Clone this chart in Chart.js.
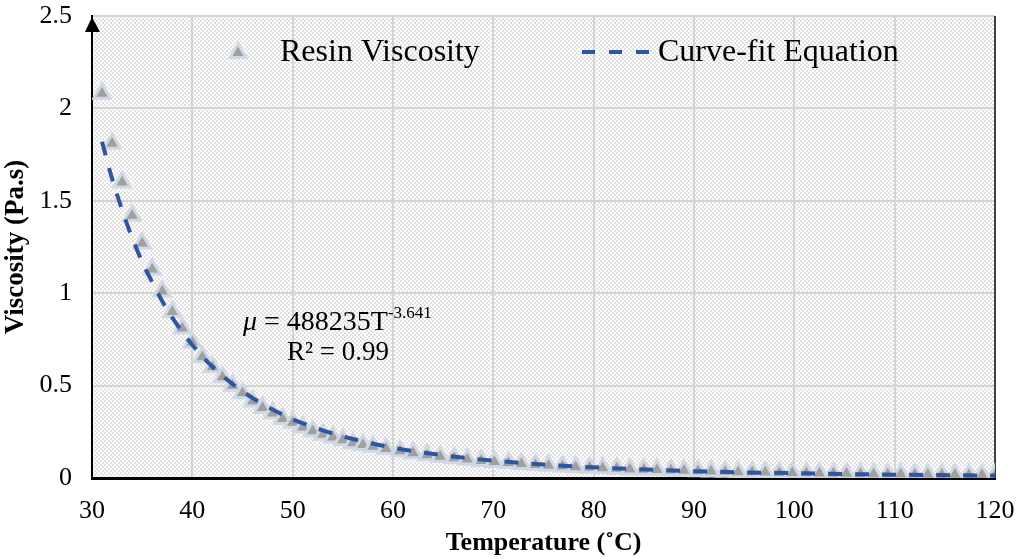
<!DOCTYPE html>
<html>
<head>
<meta charset="utf-8">
<script src="https://cdn.jsdelivr.net/npm/chart.js@4.4.1/dist/chart.umd.min.js"></script>
<style>
  html, body { margin: 0; padding: 0; background: #fff; }
</style>
</head>
<body>
<canvas id="chart" width="1016" height="559"></canvas>
<script>
// measured points (temperature in °C, viscosity in Pa.s)
const temps = [31, 32, 33, 34, 35, 36, 37, 38, 39, 40, 41, 42, 43, 44, 45, 46, 47, 48, 49, 50,
  51, 52, 53, 54, 55, 56, 57, 58, 59.3, 60.7, 62.0, 63.4, 64.7, 66.1, 67.4, 68.8, 70.1, 71.5,
  72.8, 74.2, 75.5, 76.9, 78.2, 79.6, 80.9, 82.3, 83.6, 85.0, 86.3, 87.7, 89.0, 90.4, 91.7,
  93.1, 94.4, 95.8, 97.1, 98.5, 99.8, 101.2, 102.5, 103.9, 105.2, 106.6, 107.9, 109.3, 110.6,
  112.0, 113.3, 114.7, 116.0, 117.4, 118.7, 120.0];
const viscosity = [2.08, 1.81, 1.60, 1.42, 1.27, 1.13, 1.01, 0.90, 0.81, 0.735, 0.655, 0.60,
  0.547, 0.50, 0.46, 0.415, 0.38, 0.35, 0.32, 0.30, 0.275, 0.255, 0.235, 0.22, 0.205, 0.19,
  0.18, 0.17, 0.158, 0.146, 0.135, 0.125, 0.117, 0.108, 0.101, 0.094, 0.088, 0.082, 0.077,
  0.072, 0.068, 0.064, 0.060, 0.057, 0.054, 0.051, 0.048, 0.046, 0.044, 0.042, 0.040, 0.038,
  0.036, 0.035, 0.033, 0.032, 0.031, 0.029, 0.028, 0.027, 0.026, 0.025, 0.024, 0.023, 0.022,
  0.022, 0.021, 0.020, 0.020, 0.019, 0.019, 0.018, 0.018, 0.017];

// dashed fit curve
const fitTemps = [31, 32, 33, 34, 35, 36, 37, 38, 39, 40, 42, 44, 46, 48, 50, 53, 56, 60, 65,
  70, 75, 80, 90, 100, 110, 120];
const fitViscosity = [1.82, 1.62, 1.45, 1.30, 1.17, 1.06, 0.957, 0.868, 0.79, 0.72, 0.602,
  0.509, 0.433, 0.371, 0.318, 0.258, 0.211, 0.164, 0.123, 0.094, 0.073, 0.058, 0.037, 0.026,
  0.018, 0.013];

const seriesNames = ["Resin Viscosity", "Curve-fit Equation"];
const xTitle = "Temperature (˚C)";
const yTitle = "Viscosity (Pa.s)";

const serif = "'Liberation Serif', 'Times New Roman', serif";
const lineBlue = "#2f559e";
const markFill = "#a0a0a0";
const markEdge = "#d0d8e4";

function hatchTile() {
  const c = document.createElement("canvas");
  c.width = 8; c.height = 8;
  const g = c.getContext("2d");
  g.fillStyle = "#fff";
  g.fillRect(0, 0, 8, 8);
  g.fillStyle = "#e2e2e2";
  for (let k = 0; k < 4; k++) {
    g.fillRect(2 * k, 2 * k, 2, 2);
    g.fillRect((2 * k + 4) % 8, 2 * k, 2, 2);
  }
  return c;
}

function noEdgePadding(scale) {
  scale.paddingTop = 0;
  scale.paddingBottom = 0;
  scale.paddingLeft = 0;
  scale.paddingRight = 0;
}

const decor = {
  id: "decor",
  beforeDraw(chart) {
    const { ctx, chartArea: a } = chart;
    ctx.save();
    ctx.fillStyle = ctx.createPattern(hatchTile(), "repeat");
    ctx.fillRect(a.left, a.top, a.right - a.left, a.bottom - a.top);
    ctx.restore();
  },
  beforeDatasetsDraw(chart) {
    const { ctx, chartArea: a } = chart;
    ctx.save();
    ctx.strokeStyle = "#404040";
    ctx.lineWidth = 2;
    ctx.beginPath();
    ctx.moveTo(a.right, a.top);
    ctx.lineTo(a.right, a.bottom);
    ctx.stroke();
    ctx.restore();
  },
  afterDraw(chart) {
    const { ctx, chartArea: a } = chart;
    ctx.save();
    // arrow head on the y axis
    ctx.fillStyle = "#000";
    ctx.beginPath();
    ctx.moveTo(a.left, a.top + 1);
    ctx.lineTo(a.left - 7, a.top + 16);
    ctx.lineTo(a.left + 8, a.top + 16);
    ctx.closePath();
    ctx.fill();

    // legend
    const ly = 52;
    ctx.fillStyle = markFill;
    ctx.strokeStyle = markEdge;
    ctx.lineWidth = 3;
    ctx.beginPath();
    ctx.moveTo(238, ly - 8.5);
    ctx.lineTo(246, ly + 5.5);
    ctx.lineTo(230, ly + 5.5);
    ctx.closePath();
    ctx.fill();
    ctx.stroke();
    ctx.fillStyle = "#000";
    ctx.font = "32px " + serif;
    ctx.textBaseline = "middle";
    ctx.fillText(seriesNames[0], 280, ly + 1);
    ctx.strokeStyle = lineBlue;
    ctx.lineWidth = 4;
    ctx.setLineDash([13, 14]);
    ctx.beginPath();
    ctx.moveTo(582, ly);
    ctx.lineTo(654, ly);
    ctx.stroke();
    ctx.setLineDash([]);
    ctx.fillText(seriesNames[1], 658, ly + 1);

    // equation
    ctx.textBaseline = "alphabetic";
    ctx.font = "italic 28px " + serif;
    ctx.fillText("μ", 243, 330);
    let x = 243 + ctx.measureText("μ").width;
    ctx.font = "28px " + serif;
    const mid = " = 488235T";
    ctx.fillText(mid, x, 330);
    x += ctx.measureText(mid).width;
    ctx.font = "17px " + serif;
    ctx.fillText("-3.641", x, 318);
    ctx.font = "27px " + serif;
    ctx.fillText("R² = 0.99", 287, 360);
    ctx.restore();
  }
};

const ctx = document.getElementById("chart").getContext("2d");
new Chart(ctx, {
  data: {
    datasets: [
      {
        type: "scatter",
        label: seriesNames[0],
        data: temps.map((t, i) => ({ x: t, y: viscosity[i] })),
        pointStyle: "triangle",
        pointRadius: 9.5,
        pointHoverRadius: 9.5,
        pointBackgroundColor: markFill,
        pointBorderColor: markEdge,
        pointBorderWidth: 3,
        order: 2
      },
      {
        type: "line",
        label: seriesNames[1],
        data: fitTemps.map((t, i) => ({ x: t, y: fitViscosity[i] })),
        borderColor: lineBlue,
        borderWidth: 4,
        borderDash: [14, 13],
        pointRadius: 0,
        fill: false,
        cubicInterpolationMode: "monotone",
        order: 1
      }
    ]
  },
  options: {
    responsive: false,
    animation: false,
    layout: { padding: { top: 16, right: 21, left: 0, bottom: 0 } },
    plugins: { legend: { display: false }, tooltip: { enabled: false } },
    scales: {
      x: {
        type: "linear",
        min: 30,
        max: 120,
        ticks: { stepSize: 10, padding: 18, color: "#000", font: { family: serif, size: 26 } },
        grid: { color: "#d4d4d4", lineWidth: 2, drawTicks: false },
        border: { color: "#000", width: 3 },
        title: {
          display: true, text: xTitle, color: "#000",
          font: { family: serif, size: 26, weight: "bold" },
          padding: { top: 0, bottom: 0 }
        },
        afterFit(scale) { scale.height = 81; noEdgePadding(scale); }
      },
      y: {
        min: 0,
        max: 2.5,
        ticks: {
          stepSize: 0.5, padding: 20, color: "#000", font: { family: serif, size: 26 },
          callback: (v) => String(v)
        },
        grid: { color: "#d4d4d4", lineWidth: 2, drawTicks: false },
        border: { color: "#000", width: 2 },
        title: {
          display: true, text: yTitle, color: "#000",
          font: { family: serif, size: 27, weight: "bold" },
          padding: { top: 0, bottom: 0 }
        },
        afterFit(scale) { scale.width = 92; noEdgePadding(scale); }
      }
    }
  },
  plugins: [decor]
});
</script>
</body>
</html>
